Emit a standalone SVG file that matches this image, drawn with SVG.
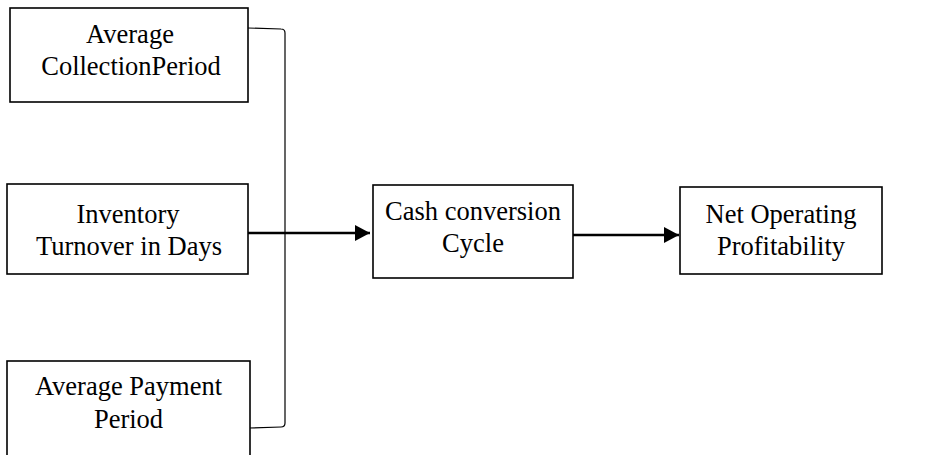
<svg xmlns="http://www.w3.org/2000/svg" width="950" height="455" viewBox="0 0 950 455">
<defs>
<style>
.box{fill:#fff;stroke:#000;stroke-width:1.6}
.t{font-family:"Liberation Serif","Times New Roman",serif;font-size:26.5px;fill:#000;text-anchor:middle}
.arr{stroke:#000;stroke-width:2.5;fill:none}
.br{stroke:#000;stroke-width:1.2;fill:none}
</style>
<marker id="ah" markerWidth="16" markerHeight="16" refX="15" refY="8" orient="auto" markerUnits="userSpaceOnUse">
<path d="M0,0 L15,8 L0,16 Z" fill="#000"/>
</marker>
</defs>
<rect width="950" height="455" fill="#fff"/>
<g id="connectors">
<path class="br" d="M248,28 L281,29 Q285,29 285,33 L285,423 Q285,427 281,427 L249,428"/>
<line class="arr" x1="248" y1="233" x2="370" y2="233" marker-end="url(#ah)"/>
<line class="arr" x1="573" y1="235" x2="679" y2="235" marker-end="url(#ah)"/>
</g>
<g id="n1">
<rect class="box" x="10" y="8" width="238" height="94"/>
<text class="t" x="130" y="43">Average</text>
<text class="t" x="131" y="75">CollectionPeriod</text>
</g>
<g id="n2">
<rect class="box" x="7" y="184" width="241" height="90"/>
<text class="t" x="128" y="223">Inventory</text>
<text class="t" x="129" y="255">Turnover in Days</text>
</g>
<g id="n3">
<rect class="box" x="7" y="361" width="243" height="100"/>
<text class="t" x="128.5" y="395">Average Payment</text>
<text class="t" x="128.5" y="428">Period</text>
</g>
<g id="n4">
<rect class="box" x="373" y="185" width="200" height="93"/>
<text class="t" x="473" y="220">Cash conversion</text>
<text class="t" x="473" y="252">Cycle</text>
</g>
<g id="n5">
<rect class="box" x="680" y="187" width="202" height="87"/>
<text class="t" x="781" y="223">Net Operating</text>
<text class="t" x="781" y="255">Profitability</text>
</g>
</svg>
